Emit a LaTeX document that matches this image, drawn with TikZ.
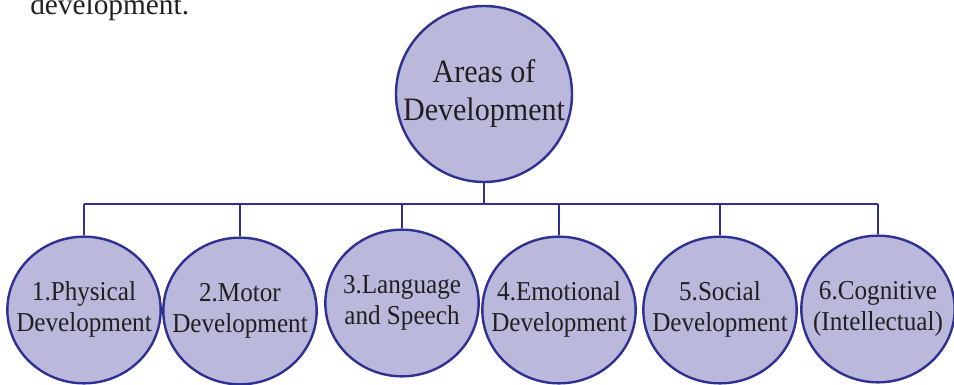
\documentclass[tikz,border=0pt]{standalone}
\usepackage{fontspec}
\setmainfont{Liberation Serif}
\newfontfamily\bubblefont{Liberation Serif}[FakeStretch=0.92]
\usepackage{tikz}
\usetikzlibrary{shapes.geometric}
\definecolor{areafill}{RGB}{186,184,219}
\definecolor{arealine}{RGB}{46,49,146}
\definecolor{areatext}{RGB}{35,31,32}

% text of a bubble, kept from widening the ellipse
\newcommand{\areatxt}[1]{\makebox[0pt]{\begin{tabular}{@{}c@{}}#1\end{tabular}}}

\tikzset{
  area/.style={ellipse,draw=arealine,fill=areafill,line width=1.8pt,inner sep=0pt,
    minimum width=115pt,minimum height=110pt,text=areatext,
    font=\bubblefont\fontsize{20.5}{23}\selectfont},
  link/.style={draw=arealine,line width=1.8pt}
}

\begin{document}
\begin{tikzpicture}[x=0.75pt,y=-0.75pt]
\clip (0,0) rectangle (954,385);
\useasboundingbox (0,0) rectangle (954,385);

%caption line, cut at the top
\node[anchor=base west,inner sep=0pt,text=areatext,font=\fontsize{22}{26}\selectfont] (capt) at (30,14.5) {development.};

%top
\node[area,circle,minimum size=132pt,font=\bubblefont\fontsize{24.5}{28.5}\selectfont] (top) at (484,94) {\areatxt{Areas of\\Development}};

%children
\node[area] (phys) at (84,310) {\areatxt{1.Physical\\Development}};
\node[area] (motor) at (240,311) {\areatxt{2.Motor\\Development}};
\node[area] (lang) at (402,303) {\areatxt{3.Language\\and Speech}};
\node[area] (emo) at (559,310) {\areatxt{4.Emotional\\Development}};
\node[area] (soc) at (720,310) {\areatxt{5.Social\\Development}};
\node[area] (cog) at (878,309) {\areatxt{6.Cognitive\\(Intellectual)}};

%bar
\coordinate (barL) at (84,204);
\coordinate (barR) at (878,204);
\draw[link] (barL) -- (barR);
\draw[link] (top.south) -- (top.south |- barL);
\foreach \n in {phys,motor,lang,emo,soc,cog}
  \draw[link] (\n.north) -- (\n.north |- barL);

\end{tikzpicture}
\end{document}
